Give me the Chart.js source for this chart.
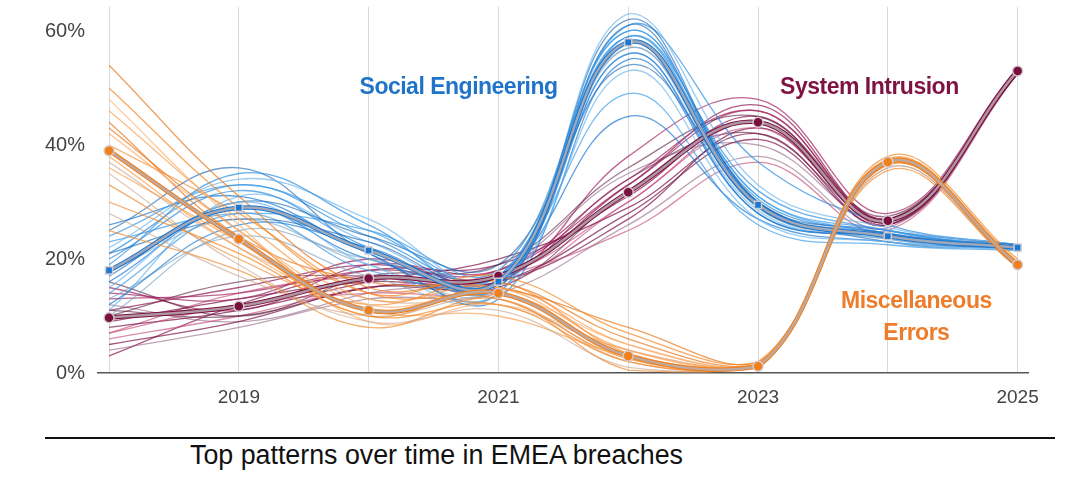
<!DOCTYPE html>
<html>
<head>
<meta charset="utf-8">
<script src="https://cdn.jsdelivr.net/npm/chart.js@4"></script>
<style>
  body { margin: 0; background: #fff; width: 1080px; height: 490px; overflow: hidden; font-family: "Liberation Sans", Arial, sans-serif; position: relative; }
  #wrap { position: absolute; left: 0; top: 0; width: 1080px; height: 420px; }
  #rule { position: absolute; left: 45px; top: 437px; width: 1010px; height: 2px; background: #111; }
  #caption { position: absolute; left: 190px; top: 440px; font-size: 26.8px; color: #111; }
</style>
</head>
<body>
<div id="wrap"><canvas id="chart"></canvas></div>
<div id="rule"></div>
<div id="caption">Top patterns over time in EMEA breaches</div>
<script>
// Years on the x axis
const years = [2018, 2019, 2020, 2021, 2022, 2023, 2024, 2025];
const yTicks = [0, 20, 40, 60];

// Main series (share of breaches, %)
const socialEng = [18, 29, 21.5, 16, 58, 29.5, 24, 22];
const sysIntrusion = [9.7, 11.7, 16.6, 17, 31.7, 44, 26.7, 53];
const miscErrors = [39, 23.5, 11, 14, 3, 1.2, 37, 19];

// Resampled runs drawn as thin lines behind each series
const socialEngRuns = [
  [12, 26, 22, 15, 56, 28, 24, 22],
  [24, 33, 25, 17, 60, 31, 25, 22],
  [15, 30, 19, 14, 53, 27, 23, 21.5],
  [21, 27, 23, 16, 62, 30, 24.5, 22.5],
  [10, 25, 20, 18, 57, 29, 23.5, 22],
  [19, 35, 26, 15, 59, 32, 25, 22],
  [26, 31, 21, 13, 55, 28, 24, 21.5],
  [14, 28, 18, 17, 49, 26, 22.5, 21.5],
  [22, 34, 27, 16, 63, 33, 25.5, 22.5],
  [17, 30, 24, 19, 54, 30, 23, 22],
  [13, 24, 17, 14, 58, 29, 24, 22],
  [20, 32, 22, 15, 61, 37, 26, 22.5],
  [16, 29, 20, 17, 45, 27, 23, 22],
  [23, 28, 25, 18, 60, 31, 24.5, 22],
  [11, 31, 23, 16, 56, 28.5, 23.5, 21.5],
  [25, 36, 21, 14, 61, 30, 25, 22.5],
  [18, 27, 19, 15, 57, 29, 24, 22],
  [21, 33, 24, 17, 59, 30.5, 24.5, 22]
];
const sysIntrusionRuns = [
  [5, 9, 15, 16, 28, 41, 26, 52.5],
  [13, 14, 18, 18, 34, 46, 27, 53.5],
  [7, 12, 14, 15, 30, 43, 26.5, 53],
  [16, 10, 17, 19, 36, 45, 27.5, 53],
  [4, 8, 13, 14, 26, 38, 25.5, 52.5],
  [11, 15, 19, 17, 33, 47, 27, 53.5],
  [8, 11, 16, 20, 29, 42, 26, 53],
  [14, 13, 20, 16, 38, 48, 28, 53.5],
  [6, 10, 15, 17, 25, 37, 25, 52.5],
  [10, 16, 17, 15, 32, 44, 26.5, 53],
  [12, 9, 14, 18, 35, 40, 27, 53],
  [3, 12, 18, 19, 31, 45, 26, 52.5],
  [9, 13, 16, 16, 27, 43, 26.5, 53],
  [15, 11, 19, 18, 33, 46, 27, 53],
  [7, 14, 17, 17, 30, 44, 26.5, 53],
  [11, 10, 15, 16, 34, 42, 27, 53]
];
const miscErrorsRuns = [
  [30, 21, 10, 12, 2, 1, 36.5, 19],
  [46, 27, 13, 15, 4, 1.5, 37.5, 19.5],
  [54, 31, 15, 16, 6, 1.5, 37, 19],
  [35, 19, 9, 11, 1, 0.8, 36, 18.5],
  [42, 25, 12, 14, 5, 1.2, 37.5, 19.5],
  [25, 18, 8, 13, 0.5, 1, 35.5, 18.5],
  [50, 29, 14, 17, 7, 2, 38, 20],
  [38, 22, 11, 10, 3, 1, 36.5, 19],
  [44, 24, 16, 15, 8, 1.8, 37, 19],
  [28, 17, 10, 13, 2, 0.8, 36, 18.5],
  [48, 26, 9, 12, 4, 1.2, 37.5, 19.5],
  [33, 20, 12, 16, 3.5, 1.5, 37, 19],
  [40, 28, 14, 13, 2.5, 1, 36.5, 19],
  [36, 23, 10, 15, 5, 1.4, 37, 19.5],
  [43, 25, 11, 14, 3, 1.1, 37, 19],
  [37, 22, 13, 12, 4, 1.3, 37.5, 19]
];

const blueShades = ['rgba(28,122,212,0.7)', 'rgba(59,155,232,0.7)', 'rgba(111,183,239,0.7)', 'rgba(13,95,176,0.6)', 'rgba(120,160,190,0.6)', 'rgba(42,141,224,0.7)'];
const purpleShades = ['rgba(123,17,70,0.7)', 'rgba(162,34,94,0.7)', 'rgba(194,64,111,0.6)', 'rgba(90,28,64,0.6)', 'rgba(138,90,120,0.55)', 'rgba(140,20,80,0.7)'];
const orangeShades = ['rgba(245,132,31,0.7)', 'rgba(249,160,80,0.7)', 'rgba(232,119,26,0.7)', 'rgba(201,164,138,0.6)', 'rgba(251,176,112,0.7)', 'rgba(240,140,50,0.7)'];

const toXY = arr => arr.map((v, i) => ({ x: years[i], y: v }));

const runSets = (runs, shades, order) => runs.map((r, i) => ({
  data: toXY(r),
  borderColor: shades[i % shades.length],
  borderWidth: 1.3,
  pointRadius: 0,
  tension: 0.4,
  order: order
}));

const mainSets = (vals, color, style, order) => [
  {
    data: toXY(vals),
    borderColor: color,
    borderWidth: 4.5,
    pointRadius: 0,
    tension: 0.4,
    order: order + 1
  },
  {
    data: toXY(vals),
    borderColor: 'rgba(185,175,180,0.85)',
    borderWidth: 2.5,
    pointRadius: 5,
    pointStyle: style,
    pointBackgroundColor: color,
    pointBorderColor: 'rgba(215,205,210,0.95)',
    pointBorderWidth: 1.5,
    tension: 0.4,
    order: order
  }
];

// Text labels placed in data coordinates
const seriesLabels = [
  { lines: ['Social Engineering'], x: 2019.93, y: 50, color: '#1f74c9', align: 'left' },
  { lines: ['System Intrusion'], x: 2023.17, y: 50, color: '#7d1243', align: 'left' },
  { lines: ['Miscellaneous', 'Errors'], x: 2024.22, y: 12.6, color: '#ee7d2b', align: 'center' }
];

const labelPlugin = {
  id: 'seriesLabels',
  afterDatasetsDraw(chart) {
    const ctx = chart.ctx;
    const xs = chart.scales.x, ys = chart.scales.y;
    ctx.save();
    ctx.font = 'bold 23px "Liberation Sans", Arial, sans-serif';
    ctx.letterSpacing = '-0.5px';
    ctx.textBaseline = 'middle';
    seriesLabels.forEach(l => {
      ctx.fillStyle = l.color;
      ctx.textAlign = l.align;
      l.lines.forEach((t, i) => {
        ctx.fillText(t, xs.getPixelForValue(l.x), ys.getPixelForValue(l.y) + i * 32);
      });
    });
    ctx.restore();
  }
};

const datasets = [
  ...mainSets(miscErrors, '#f0801e', 'circle', 0),
  ...mainSets(socialEng, '#1a78d2', 'rect', 2),
  ...mainSets(sysIntrusion, '#7a1040', 'circle', 4),
  ...runSets(miscErrorsRuns, orangeShades, 6),
  ...runSets(socialEngRuns, blueShades, 7),
  ...runSets(sysIntrusionRuns, purpleShades, 8)
];

new Chart(document.getElementById('chart'), {
  type: 'line',
  data: { datasets: datasets },
  plugins: [labelPlugin],
  options: {
    responsive: true,
    maintainAspectRatio: false,
    animation: false,
    layout: { padding: { left: 35, right: 52, top: 0, bottom: 7 } },
    plugins: { legend: { display: false }, tooltip: { enabled: false } },
    scales: {
      x: {
        type: 'linear',
        min: 2017.915,
        max: 2025.08,
        grid: { color: '#d9d9d9', lineWidth: 1, drawTicks: false },
        border: { display: true, color: '#555', width: 1.5 },
        afterFit: axis => { axis.height = 40; axis.paddingLeft = 0; axis.paddingRight = 0; },
        ticks: {
          stepSize: 1,
          includeBounds: false,
          padding: 13,
          color: '#444',
          font: { size: 19, family: '"Liberation Sans", Arial, sans-serif' },
          callback: v => (v % 2 === 1 ? String(v) : '')
        }
      },
      y: {
        min: 0,
        max: 64.3,
        clip: false,
        grid: { display: false, drawTicks: false },
        border: { display: false },
        afterBuildTicks: axis => { axis.ticks = yTicks.map(v => ({ value: v })); },
        afterFit: axis => { axis.width = 63; axis.paddingTop = 0; axis.paddingBottom = 0; },
        ticks: {
          padding: 13,
          color: '#444',
          font: { size: 20, family: '"Liberation Sans", Arial, sans-serif' },
          callback: v => v + '%'
        }
      }
    }
  }
});
</script>
</body>
</html>
